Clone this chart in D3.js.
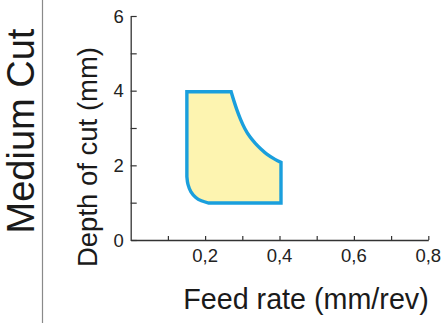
<!DOCTYPE html>
<html>
<head>
<meta charset="utf-8">
<script src="https://cdn.jsdelivr.net/npm/d3@7"></script>
<style>
  body { margin: 0; background: #fff; }
  svg { display: block; font-family: "Liberation Sans", Arial, sans-serif; }
</style>
</head>
<body>
<div class="chart"></div>
<script>
// Recommended feed / depth window for a medium cut
const xTicks = [0.1, 0.2, 0.3, 0.4, 0.5, 0.6, 0.7, 0.8];
const xLabels = [0.2, 0.4, 0.6, 0.8];
const yTicks = [0, 1, 2, 3, 4, 5, 6];
const yLabels = [0, 2, 4, 6];

// outline of the window, walked clockwise from the top-left corner
const topEdge = [[0.151, 3.97], [0.27, 3.97]];
const feedCurve = [[0.27, 3.97], [0.277, 3.74], [0.285, 3.5], [0.295, 3.24], [0.307, 2.98], [0.32, 2.77],
                   [0.335, 2.59], [0.35, 2.44], [0.366, 2.3], [0.388, 2.16], [0.404, 2.08]];
const rightEdge = [[0.404, 2.08], [0.404, 0.99]];
const bottomEdge = [[0.404, 0.99], [0.21, 0.99]];
const cornerCurve = [[0.21, 0.99], [0.19, 1.05], [0.175, 1.14], [0.162, 1.29], [0.154, 1.49], [0.151, 1.7]];
const leftEdge = [[0.151, 1.7], [0.151, 3.97]];

const width = 445, height = 323;

const svg = d3.select(".chart").append("svg")
    .attr("width", width)
    .attr("height", height);

const xScale = d3.scaleLinear().domain([0, 0.8]).range([130.7, 428.3]);
const yScale = d3.scaleLinear().domain([0, 6]).range([240, 16]);

// side title and divider
svg.append("line")
    .attr("x1", 42.5).attr("x2", 42.5)
    .attr("y1", 0).attr("y2", height)
    .attr("stroke", "#8a8a8a")
    .attr("stroke-width", 1.2);

svg.append("text")
    .attr("transform", "translate(34,131) rotate(-90)")
    .attr("text-anchor", "middle")
    .attr("font-size", 38)
    .attr("fill", "#1a1a1a")
    .text("Medium Cut");

// the window polygon, straight edges and rounded parts joined into one path
const segments = [
    {pts: topEdge, curve: d3.curveLinear},
    {pts: feedCurve, curve: d3.curveCatmullRom},
    {pts: rightEdge, curve: d3.curveLinear},
    {pts: bottomEdge, curve: d3.curveLinear},
    {pts: cornerCurve, curve: d3.curveCatmullRom},
    {pts: leftEdge, curve: d3.curveLinear}
];

let pathStr = "";
segments.forEach((s, i) => {
    const d = d3.line()
        .x(p => xScale(p[0]))
        .y(p => yScale(p[1]))
        .curve(s.curve)(s.pts);
    pathStr += i === 0 ? d : "L" + d.slice(1);
});
pathStr += "Z";

svg.append("path")
    .attr("d", pathStr)
    .attr("fill", "#fdf4b0")
    .attr("stroke", "#1a9fdd")
    .attr("stroke-width", 3.4)
    .attr("stroke-linejoin", "miter");

// axes
const axisColor = "#333";

const xAxis = svg.append("g")
    .attr("transform", `translate(0,${yScale(0)})`)
    .call(d3.axisBottom(xScale)
        .tickValues(xTicks)
        .tickSizeInner(-4)
        .tickSizeOuter(0)
        .tickFormat(""));
xAxis.select(".domain").attr("stroke", axisColor).attr("stroke-width", 1.3);
xAxis.selectAll(".tick line").attr("stroke", axisColor).attr("stroke-width", 1.2);

const yAxis = svg.append("g")
    .attr("transform", `translate(${xScale(0)},0)`)
    .call(d3.axisLeft(yScale)
        .tickValues(yTicks)
        .tickSizeInner(-6)
        .tickSizeOuter(0)
        .tickFormat(""));
yAxis.select(".domain").attr("stroke", axisColor).attr("stroke-width", 1.3);
yAxis.selectAll(".tick line").attr("stroke", axisColor).attr("stroke-width", 1.2);

// tick labels use a decimal comma
const fmt = v => d3.format(".1f")(v).replace(".", ",");

svg.append("g").selectAll("text")
    .data(xLabels)
    .join("text")
    .attr("x", d => xScale(d))
    .attr("y", 261.5)
    .attr("text-anchor", "middle")
    .attr("font-size", 18.5)
    .attr("fill", "#222")
    .text(fmt);

svg.append("g").selectAll("text")
    .data(yLabels)
    .join("text")
    .attr("x", xScale(0) - 7)
    .attr("y", d => yScale(d) + 6.5)
    .attr("text-anchor", "end")
    .attr("font-size", 18.5)
    .attr("fill", "#222")
    .text(d => d);

// axis titles
svg.append("text")
    .attr("x", 306)
    .attr("y", 309)
    .attr("text-anchor", "middle")
    .attr("font-size", 28.7)
    .attr("fill", "#1a1a1a")
    .text("Feed rate (mm/rev)");

svg.append("text")
    .attr("transform", "translate(96.5,157) rotate(-90)")
    .attr("text-anchor", "middle")
    .attr("font-size", 27.5)
    .attr("fill", "#1a1a1a")
    .text("Depth of cut (mm)");
</script>
</body>
</html>
